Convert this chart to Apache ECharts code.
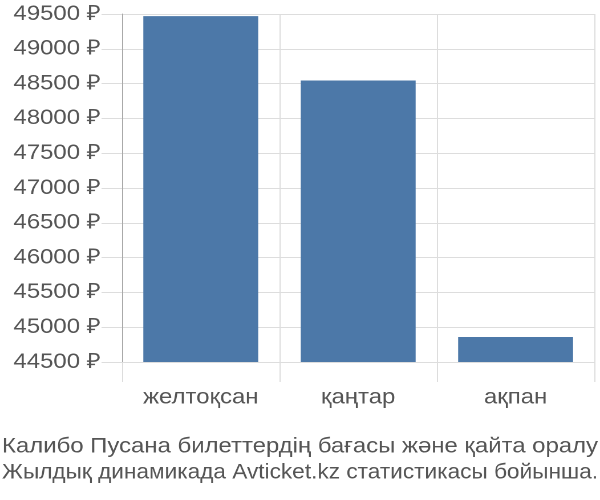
<!DOCTYPE html>
<html><head><meta charset="utf-8">
<script src="https://cdn.jsdelivr.net/npm/echarts@6/dist/echarts.min.js"></script>
<style>
html,body{margin:0;padding:0;background:#fff;overflow:hidden}
#wrap{width:600px;height:500px;overflow:hidden}
#c{width:526px;height:500px;transform:scaleX(1.1407);transform-origin:0 0}
</style>
</head><body><div id="wrap"><div id="c"></div></div>
<script>
var categories = ['желтоқсан', 'қаңтар', 'ақпан'];
var prices = [49470, 48545, 44860];
var yTicks = {min: 44500, max: 49500, step: 500};
var titleLines = ['Калибо Пусана билеттердің бағасы және қайта оралу', 'Жылдық динамикада Avticket.kz статистикасы бойынша.'];

var FONT = 'Liberation Sans';
var stretch = 1.1407;
var ctx = document.createElement('canvas').getContext('2d');
ctx.font = '21px "' + FONT + '"';
function fitScale(t, target) { var w = ctx.measureText(t).width; return w > 0 ? target / w : 1; }
var targetW = 596 / stretch;

var chart = echarts.init(document.getElementById('c'), null, {renderer: 'canvas', devicePixelRatio: 2});
chart.setOption({
  animation: false,
  textStyle: {fontFamily: FONT},
  grid: {left: 107, right: 5, top: 14, bottom: 138, containLabel: false},
  xAxis: {
    type: 'category', data: categories,
    axisLine: {show: false},
    axisTick: {show: true, length: 20, lineStyle: {color: '#ddd'}},
    splitLine: {show: true, lineStyle: {color: '#ddd'}},
    axisLabel: {fontSize: 21, color: '#555', margin: 25, fontFamily: FONT}
  },
  yAxis: {
    type: 'value', min: yTicks.min, max: yTicks.max, interval: yTicks.step,
    axisLine: {show: true, lineStyle: {color: '#aaa'}},
    axisTick: {show: true, length: 18, lineStyle: {color: '#ddd'}},
    splitLine: {show: true, lineStyle: {color: '#ddd'}},
    axisLabel: {fontSize: 21, color: '#555', margin: 19, fontFamily: FONT, formatter: function(v){return v + ' ₽';}}
  },
  graphic: titleLines.map(function(t, i){
    return {
      type: 'text', x: 2 / stretch, y: 436 + i * 26, scaleX: fitScale(t, targetW), scaleY: 1,
      style: {text: t, fill: '#555', font: '21px "' + FONT + '"'}
    };
  }),
  series: [{
    type: 'bar', data: prices, barCategoryGap: '27%',
    itemStyle: {color: '#4c78a8'}
  }]
});
</script></body></html>
